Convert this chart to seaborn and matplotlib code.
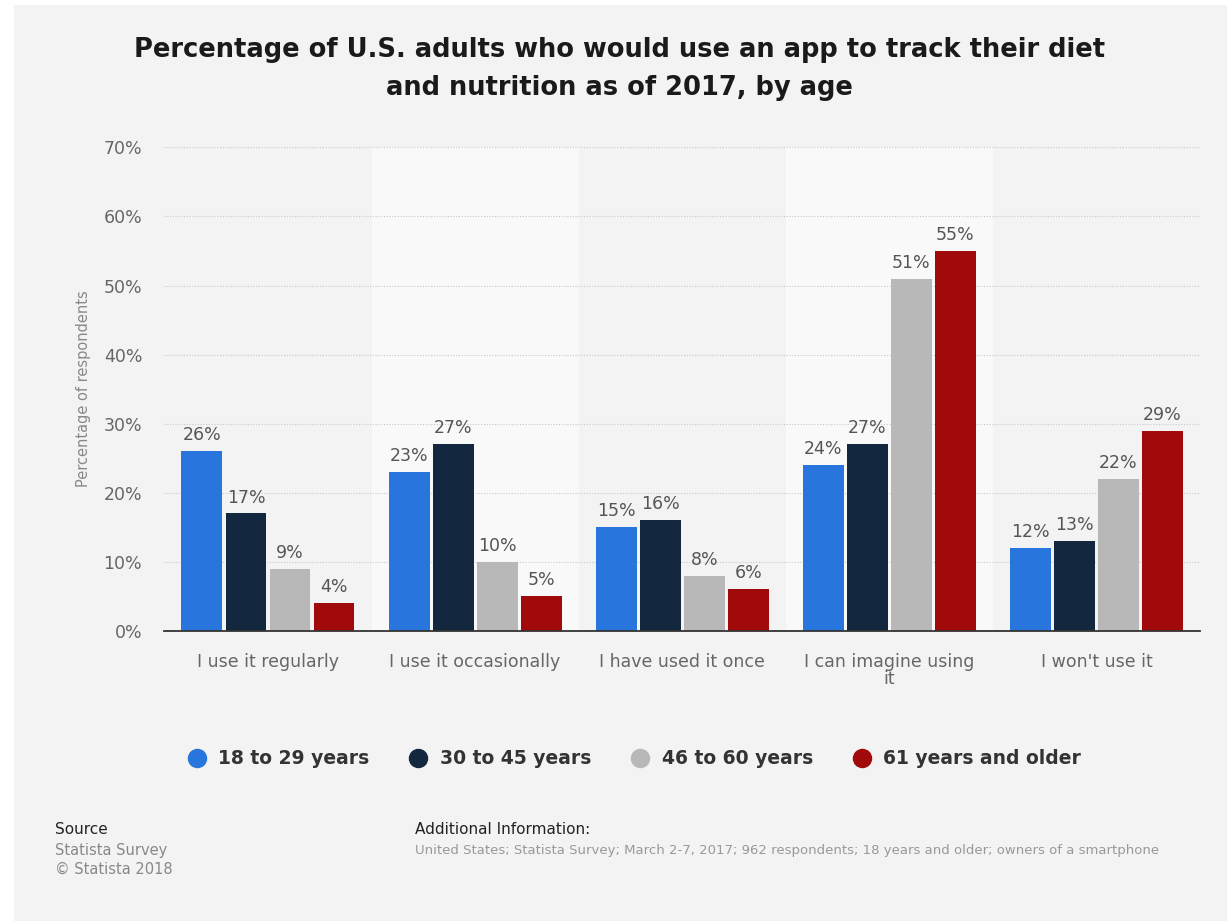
import pandas as pd
import matplotlib
matplotlib.use("Agg")
import matplotlib.pyplot as plt
from matplotlib.lines import Line2D
from matplotlib.patches import Rectangle
import seaborn as sns

# Data
categories = ["I use it regularly", "I use it occasionally", "I have used it once",
              "I can imagine using\nit", "I won't use it"]
age_groups = ["18 to 29 years", "30 to 45 years", "46 to 60 years", "61 years and older"]
values_18_29 = [26, 23, 15, 24, 12]
values_30_45 = [17, 27, 16, 27, 13]
values_46_60 = [9, 10, 8, 51, 22]
values_61_up = [4, 5, 6, 55, 29]

palette = ["#2876dd", "#13273f", "#b8b8b8", "#a10a0a"]

df = pd.DataFrame({
    "category": categories * 4,
    "age": [a for a in age_groups for _ in categories],
    "value": values_18_29 + values_30_45 + values_46_60 + values_61_up,
})

sns.set_theme(style="white")
plt.rcParams['font.family'] = ['DejaVu Sans']

fig = plt.figure(figsize=(12.27, 9.21), dpi=100)
fig.patch.set_facecolor("white")
fig.patches.append(Rectangle((14 / 1227, 0), 1, (921 - 5) / 921, transform=fig.transFigure,
                             facecolor="#f3f3f3", edgecolor="none", zorder=-10))

ax = fig.add_axes([0.134, 0.315, 0.844, 0.525])
ax.set_facecolor("#f3f3f3")

# alternating lighter column bands
for i in (1, 3):
    ax.axvspan(i - 0.5, i + 0.5, color="#f9f9f9", zorder=0, lw=0)

sns.barplot(data=df, x="category", y="value", hue="age", palette=palette,
            width=0.85, gap=0.07, ax=ax, legend=False, zorder=3,
            edgecolor="none", saturation=1)

for cont in ax.containers:
    ax.bar_label(cont, labels=[f"{v:.0f}%" for v in cont.datavalues],
                 padding=5, fontsize=12.5, color="#555555")

ax.set_xlim(-0.5, 4.5)
ax.set_ylim(0, 70)
ax.set_yticks(range(0, 71, 10))
ax.set_yticklabels([f"{t}%" for t in range(0, 71, 10)], fontsize=12.5, color="#666666")
ax.tick_params(axis="y", length=0, pad=16)
ax.tick_params(axis="x", length=0, pad=16, labelsize=12.5, labelcolor="#666666")
for lbl in ax.get_xticklabels():
    lbl.set_linespacing(0.9)
ax.grid(axis="y", color="#c8c8c8", linestyle=(0, (1, 1.5)), linewidth=0.8, zorder=1)
ax.set_axisbelow(True)
for s in ["top", "right", "left"]:
    ax.spines[s].set_visible(False)
ax.spines["bottom"].set_color("#333333")
ax.spines["bottom"].set_linewidth(1.3)
ax.spines["bottom"].set_zorder(4)
ax.set_xlabel("")
ax.set_ylabel("Percentage of respondents", fontsize=10.5, color="#888888", labelpad=9)

fig.text(0.505, 0.925, "Percentage of U.S. adults who would use an app to track their diet\nand nutrition as of 2017, by age",
         ha="center", va="center", fontsize=18.5, fontweight="bold", color="#1a1a1a",
         linespacing=1.6)

handles = [Line2D([0], [0], marker="o", linestyle="none", markersize=13,
                  markerfacecolor=c, markeredgecolor=c) for c in palette]
fig.legend(handles, age_groups, loc="center", bbox_to_anchor=(0.513, 0.176), ncol=4,
           frameon=False, prop={"weight": "bold", "size": 13.5}, labelcolor="#333333",
           handletextpad=0.15, columnspacing=1.6)

fig.text(0.045, 0.099, "Source", fontsize=11, color="#222222", va="center")
fig.text(0.045, 0.077, "Statista Survey", fontsize=10.5, color="#888888", va="center")
fig.text(0.045, 0.056, "\u00a9 Statista 2018", fontsize=10.5, color="#888888", va="center")
fig.text(0.338, 0.099, "Additional Information:", fontsize=11, color="#222222", va="center")
fig.text(0.338, 0.077, "United States; Statista Survey; March 2-7, 2017; 962 respondents; 18 years and older; owners of a smartphone",
         fontsize=9.5, color="#999999", va="center")

fig.savefig("out.png", dpi=100, facecolor=fig.get_facecolor())
